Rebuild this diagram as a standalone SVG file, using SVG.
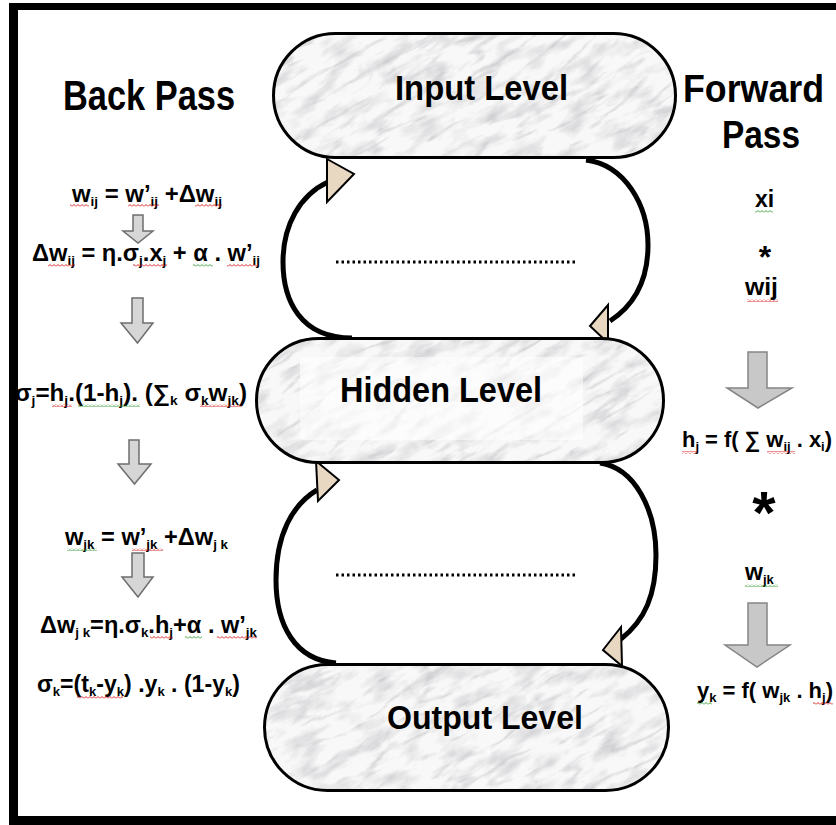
<svg xmlns="http://www.w3.org/2000/svg" width="836" height="825" viewBox="0 0 836 825">
<style>
.t{font-family:"Liberation Sans",Arial,sans-serif;font-weight:bold;fill:#000}
.f{font-size:23px}
.s{font-size:13px}
.lbl{font-size:35px}
.hd{font-size:42px}
.pill{fill:none;stroke:#000;stroke-width:3}
.conn{fill:none;stroke:#000;stroke-width:5}
.ah{fill:#e8d8c2;stroke:#000;stroke-width:2;stroke-linejoin:miter}
.sa{fill:#d6d6d6;stroke:#6e6e6e;stroke-width:1.5}
.ba{fill:#c8c8c8;stroke:#858585;stroke-width:1.5}
.dots{stroke:#000;stroke-width:3;stroke-dasharray:2.5 3}
</style>
<defs>
<pattern id="wr" width="4" height="3" patternUnits="userSpaceOnUse"><path d="M0 2.5 L2 0.5 L4 2.5" fill="none" stroke="#d01010" stroke-width="0.9"/></pattern>
<pattern id="wg" width="4" height="3" patternUnits="userSpaceOnUse"><path d="M0 2.5 L2 0.5 L4 2.5" fill="none" stroke="#2a9a2a" stroke-width="0.9"/></pattern>
<filter id="marble" x="0" y="0" width="1" height="1">
<feTurbulence type="turbulence" baseFrequency="0.012 0.045" numOctaves="5" seed="11"/>
<feColorMatrix type="matrix" values="0 0 0 0 0.40  0 0 0 0 0.40  0 0 0 0 0.44  -4.2 0 0 0 1.0"/>
</filter>
<filter id="mottle" x="0" y="0" width="1" height="1">
<feTurbulence type="fractalNoise" baseFrequency="0.03 0.08" numOctaves="4" seed="3"/>
<feColorMatrix type="matrix" values="0 0 0 0 0.5  0 0 0 0 0.5  0 0 0 0 0.53  2.2 0 0 0 -1.0"/>
</filter>
<clipPath id="cIn"><rect x="273.5" y="33.5" width="402" height="124" rx="62"/></clipPath>
<clipPath id="cHid"><rect x="256.5" y="338.5" width="407" height="124" rx="62"/></clipPath>
<clipPath id="cOut"><rect x="264.5" y="664.5" width="404" height="126" rx="63"/></clipPath>
</defs>
<rect width="836" height="825" fill="#fff"/>
<!-- frame -->
<rect x="9" y="3" width="9" height="822" fill="#000"/>
<rect x="9" y="3" width="827" height="7" fill="#000"/>
<rect x="9" y="816" width="827" height="9" fill="#000"/>

<!-- headers -->
<text class="t hd" x="63" y="110" textLength="172" lengthAdjust="spacingAndGlyphs">Back Pass</text>
<text class="t hd" x="683" y="102" textLength="141" lengthAdjust="spacingAndGlyphs" style="font-size:38px">Forward</text>
<text class="t hd" x="722" y="148" textLength="78" lengthAdjust="spacingAndGlyphs" style="font-size:38px">Pass</text>

<!-- connectors -->
<g id="connectors">
<path class="conn" d="M352 338 C300 338 283 300 283 262 C283 225 300 195 328 182"/>
<polygon class="ah" points="327,159 354,174 327,202"/>
<path class="conn" d="M586 160 C625 165 648 205 648 245 C648 285 630 308 610 321"/>
<polygon class="ah" points="608,305 590,326 608,343"/>
<path class="conn" d="M336 663 C295 660 276 625 276 580 C276 535 292 505 317 490"/>
<polygon class="ah" points="316,461 339,480 318,501"/>
<path class="conn" d="M600 463 C635 468 656 510 656 555 C656 595 645 620 621 639"/>
<polygon class="ah" points="621,627 603,650 622,666"/>
<line class="dots" x1="336" y1="262" x2="577" y2="262"/>
<line class="dots" x1="336" y1="575" x2="577" y2="575"/>
</g>

<!-- nodes -->
<g id="input-level">
<g clip-path="url(#cIn)">
<rect x="270" y="30" width="410" height="130" fill="#f8f8f8"/>
<g transform="rotate(-30 475 95)"><rect x="220" y="-40" width="510" height="270" filter="url(#marble)" opacity="0.45"/><rect x="220" y="-40" width="510" height="270" filter="url(#mottle)" opacity="0.6"/></g>
</g>
<rect class="pill" x="273.5" y="33.5" width="402" height="124" rx="62"/>
<text class="t lbl" x="395" y="100" textLength="173" lengthAdjust="spacingAndGlyphs">Input Level</text>
</g>
<g id="hidden-level">
<g clip-path="url(#cHid)">
<rect x="250" y="335" width="420" height="130" fill="#f8f8f8"/>
<g transform="rotate(-30 460 400)"><rect x="200" y="265" width="520" height="270" filter="url(#marble)" opacity="0.45"/><rect x="200" y="265" width="520" height="270" filter="url(#mottle)" opacity="0.6"/></g>
<rect x="300" y="357" width="283" height="83" fill="#fff" opacity="0.55"/>
</g>
<rect class="pill" x="256.5" y="338.5" width="407" height="124" rx="62"/>
<text class="t lbl" x="340" y="402" textLength="202" lengthAdjust="spacingAndGlyphs">Hidden Level</text>
</g>
<g id="output-level">
<g clip-path="url(#cOut)">
<rect x="260" y="660" width="415" height="135" fill="#f8f8f8"/>
<g transform="rotate(-30 466 727)"><rect x="205" y="590" width="520" height="275" filter="url(#marble)" opacity="0.45"/><rect x="205" y="590" width="520" height="275" filter="url(#mottle)" opacity="0.6"/></g>
</g>
<rect class="pill" x="264.5" y="664.5" width="404" height="126" rx="63"/>
<text class="t lbl" x="387" y="729" textLength="196" lengthAdjust="spacingAndGlyphs" style="font-size:34px">Output Level</text>
</g>

<!-- back pass formulas -->
<g id="back-pass">
<text class="t f" x="72" y="202" textLength="150" lengthAdjust="spacingAndGlyphs">w<tspan class="s" dy="4">ij</tspan><tspan dy="-4"> = w’</tspan><tspan class="s" dy="4">ij</tspan><tspan dy="-4"> +Δw</tspan><tspan class="s" dy="4">ij</tspan></text>
<rect x="70" y="204" width="19" height="3" fill="url(#wr)"/>
<rect x="128" y="204" width="31" height="3" fill="url(#wr)"/>
<rect x="195" y="204" width="27" height="3" fill="url(#wr)"/>
<path class="sa" d="M133 215 H143 V231 H153 L138 243 L123 231 H133 Z"/>

<text class="t f" x="32" y="261" textLength="228" lengthAdjust="spacingAndGlyphs">Δw<tspan class="s" dy="4">ij</tspan><tspan dy="-4"> = η.σ</tspan><tspan class="s" dy="4">j</tspan><tspan dy="-4">.x</tspan><tspan class="s" dy="4">j</tspan><tspan dy="-4"> + α . w’</tspan><tspan class="s" dy="4">ij</tspan></text>
<rect x="48" y="264" width="27" height="3" fill="url(#wr)"/>
<rect x="133" y="264" width="34" height="3" fill="url(#wr)"/>
<rect x="193" y="264" width="20" height="3" fill="url(#wg)"/>
<rect x="227" y="264" width="31" height="3" fill="url(#wr)"/>
<path class="sa" d="M132 298 H143 V323 H153 L137.5 343 L121 323 H132 Z"/>

<text class="t f" x="15" y="401" textLength="232" lengthAdjust="spacingAndGlyphs">σ<tspan class="s" dy="4">j</tspan><tspan dy="-4">=h</tspan><tspan class="s" dy="4">j</tspan><tspan dy="-4">.(1-h</tspan><tspan class="s" dy="4">j</tspan><tspan dy="-4">). (∑</tspan><tspan class="s" dy="4">k</tspan><tspan dy="-4"> σ</tspan><tspan class="s" dy="4">k</tspan><tspan dy="-4">w</tspan><tspan class="s" dy="4">jk</tspan><tspan dy="-4">)</tspan></text>
<rect x="52" y="404" width="20" height="3" fill="url(#wr)"/>
<rect x="78" y="404" width="62" height="3" fill="url(#wg)"/>
<rect x="200" y="404" width="42" height="3" fill="url(#wr)"/>
<path class="sa" d="M129 440 H139 V464 H151 L134.5 484 L118 464 H129 Z"/>

<text class="t f" x="65" y="545" textLength="163" lengthAdjust="spacingAndGlyphs">w<tspan class="s" dy="4">jk</tspan><tspan dy="-4"> = w’</tspan><tspan class="s" dy="4">jk</tspan><tspan dy="-4"> +Δw</tspan><tspan class="s" dy="4">j k</tspan></text>
<rect x="67" y="548" width="30" height="3" fill="url(#wg)"/>
<rect x="132" y="548" width="31" height="3" fill="url(#wr)"/>
<path class="sa" d="M132 553 H144 V577 H153 L138 597 L122 577 H132 Z"/>

<text class="t f" x="40" y="633" textLength="217" lengthAdjust="spacingAndGlyphs">Δw<tspan class="s" dy="4">j k</tspan><tspan dy="-4">=η.σ</tspan><tspan class="s" dy="4">k</tspan><tspan dy="-4">.h</tspan><tspan class="s" dy="4">j</tspan><tspan dy="-4">+α . w’</tspan><tspan class="s" dy="4">jk</tspan></text>
<rect x="150" y="636" width="23" height="3" fill="url(#wr)"/>
<rect x="185" y="636" width="17" height="3" fill="url(#wg)"/>
<rect x="217" y="636" width="40" height="3" fill="url(#wr)"/>

<text class="t f" x="37" y="692" textLength="203" lengthAdjust="spacingAndGlyphs">σ<tspan class="s" dy="4">k</tspan><tspan dy="-4">=(t</tspan><tspan class="s" dy="4">k</tspan><tspan dy="-4">-y</tspan><tspan class="s" dy="4">k</tspan><tspan dy="-4">) .y</tspan><tspan class="s" dy="4">k</tspan><tspan dy="-4"> . (1-y</tspan><tspan class="s" dy="4">k</tspan><tspan dy="-4">)</tspan></text>
<rect x="77" y="696" width="46" height="3" fill="url(#wr)"/>
</g>

<!-- forward pass -->
<g id="forward-pass">
<text class="t f" x="755" y="207">xi</text>
<rect x="755" y="210" width="18" height="3" fill="url(#wg)"/>
<text class="t" x="765" y="268" text-anchor="middle" style="font-size:32px">*</text>
<text class="t f" x="745" y="295" textLength="33" lengthAdjust="spacingAndGlyphs">wij</text>
<rect x="747" y="299" width="31" height="3" fill="url(#wr)"/>
<path class="ba" d="M748 352 H767 V388 H792 L758 408 L727 388 H748 Z"/>
<text class="t f" x="682" y="447" textLength="150" lengthAdjust="spacingAndGlyphs" style="font-size:22px">h<tspan class="s" dy="4">j</tspan><tspan dy="-4"> = f( ∑ w</tspan><tspan class="s" dy="4">ij</tspan><tspan dy="-4"> . x</tspan><tspan class="s" dy="4">i</tspan><tspan dy="-4">)</tspan></text>
<rect x="682" y="451" width="15" height="3" fill="url(#wr)"/>
<rect x="767" y="451" width="28" height="3" fill="url(#wr)"/>
<text class="t" x="764" y="533" text-anchor="middle" style="font-size:60px">*</text>
<text class="t f" x="745" y="580">w<tspan class="s" dy="4">jk</tspan></text>
<rect x="745" y="584" width="33" height="3" fill="url(#wg)"/>
<path class="ba" d="M748 603 H767 V645 H790 L757 667 L725 645 H748 Z"/>
<text class="t f" x="697" y="698" textLength="136" lengthAdjust="spacingAndGlyphs" style="font-size:22px">y<tspan class="s" dy="4">k</tspan><tspan dy="-4"> = f( w</tspan><tspan class="s" dy="4">jk</tspan><tspan dy="-4"> . h</tspan><tspan class="s" dy="4">j</tspan><tspan dy="-4">)</tspan></text>
<rect x="697" y="702" width="15" height="3" fill="url(#wg)"/>
<rect x="813" y="702" width="20" height="3" fill="url(#wr)"/>
</g>
</svg>
